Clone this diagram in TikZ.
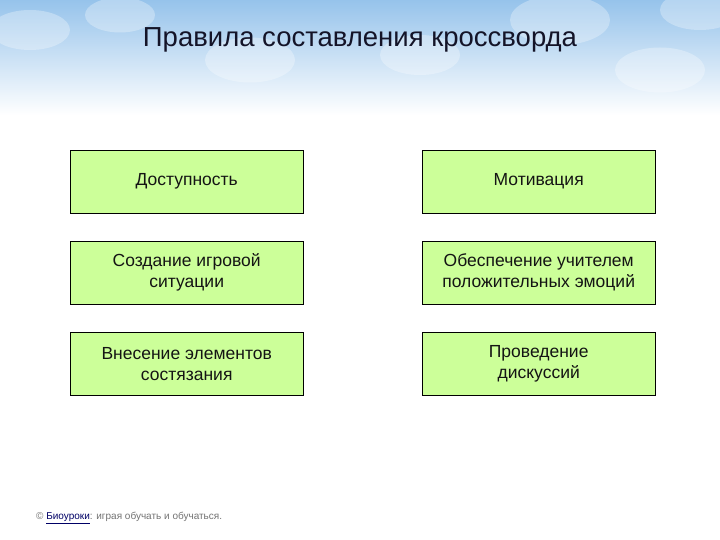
\documentclass[tikz,border=0pt]{standalone}
\usepackage{fontspec}
\setmainfont{Liberation Sans}
\begin{document}
\begin{tikzpicture}[x=1pt,y=-1pt,
  box/.style={draw=black,fill={rgb,255:red,204;green,255;blue,153},minimum width=233pt,minimum height=63pt,inner sep=2pt,align=center,font=\fontsize{17.5}{21}\selectfont,text={rgb,255:red,20;green,20;blue,20},anchor=north west}]
\useasboundingbox (0,0) rectangle (720,540);
\fill[white] (0,0) rectangle (720,540);
\shade[top color={rgb,255:red,150;green,195;blue,235},bottom color=white] (0,0) rectangle (720,115);
\foreach \cx/\cy/\r in {30/30/40,120/15/35,250/60/45,420/55/40,560/20/50,660/70/45,700/10/40}
  \fill[white,opacity=0.3] (\cx,\cy) ellipse ({\r} and {\r*0.5});
\node[text={rgb,255:red,20;green,20;blue,40}] (title) at (360,40) {\fontsize{27.5}{32}\selectfont Правила составления кроссворда};
\node[box] (a) at (70,150) {Доступность};
\node[box] (b) at (422,150) {Мотивация};
\node[box] (c) at (70,241) {Создание игровой\\ситуации};
\node[box] (d) at (422,241) {Обеспечение учителем\\положительных эмоций};
\node[box] (e) at (70,332) {Внесение элементов\\состязания};
\node[box] (f) at (422,332) {Проведение\\дискуссий};
\node[anchor=west,font=\fontsize{10}{12}\selectfont,text=gray!90!black,inner sep=0pt] (foot) at (36,518) {©~\textcolor{blue!40!black}{\underline{Биоуроки}}: играя обучать и обучаться.};
\end{tikzpicture}
\end{document}
